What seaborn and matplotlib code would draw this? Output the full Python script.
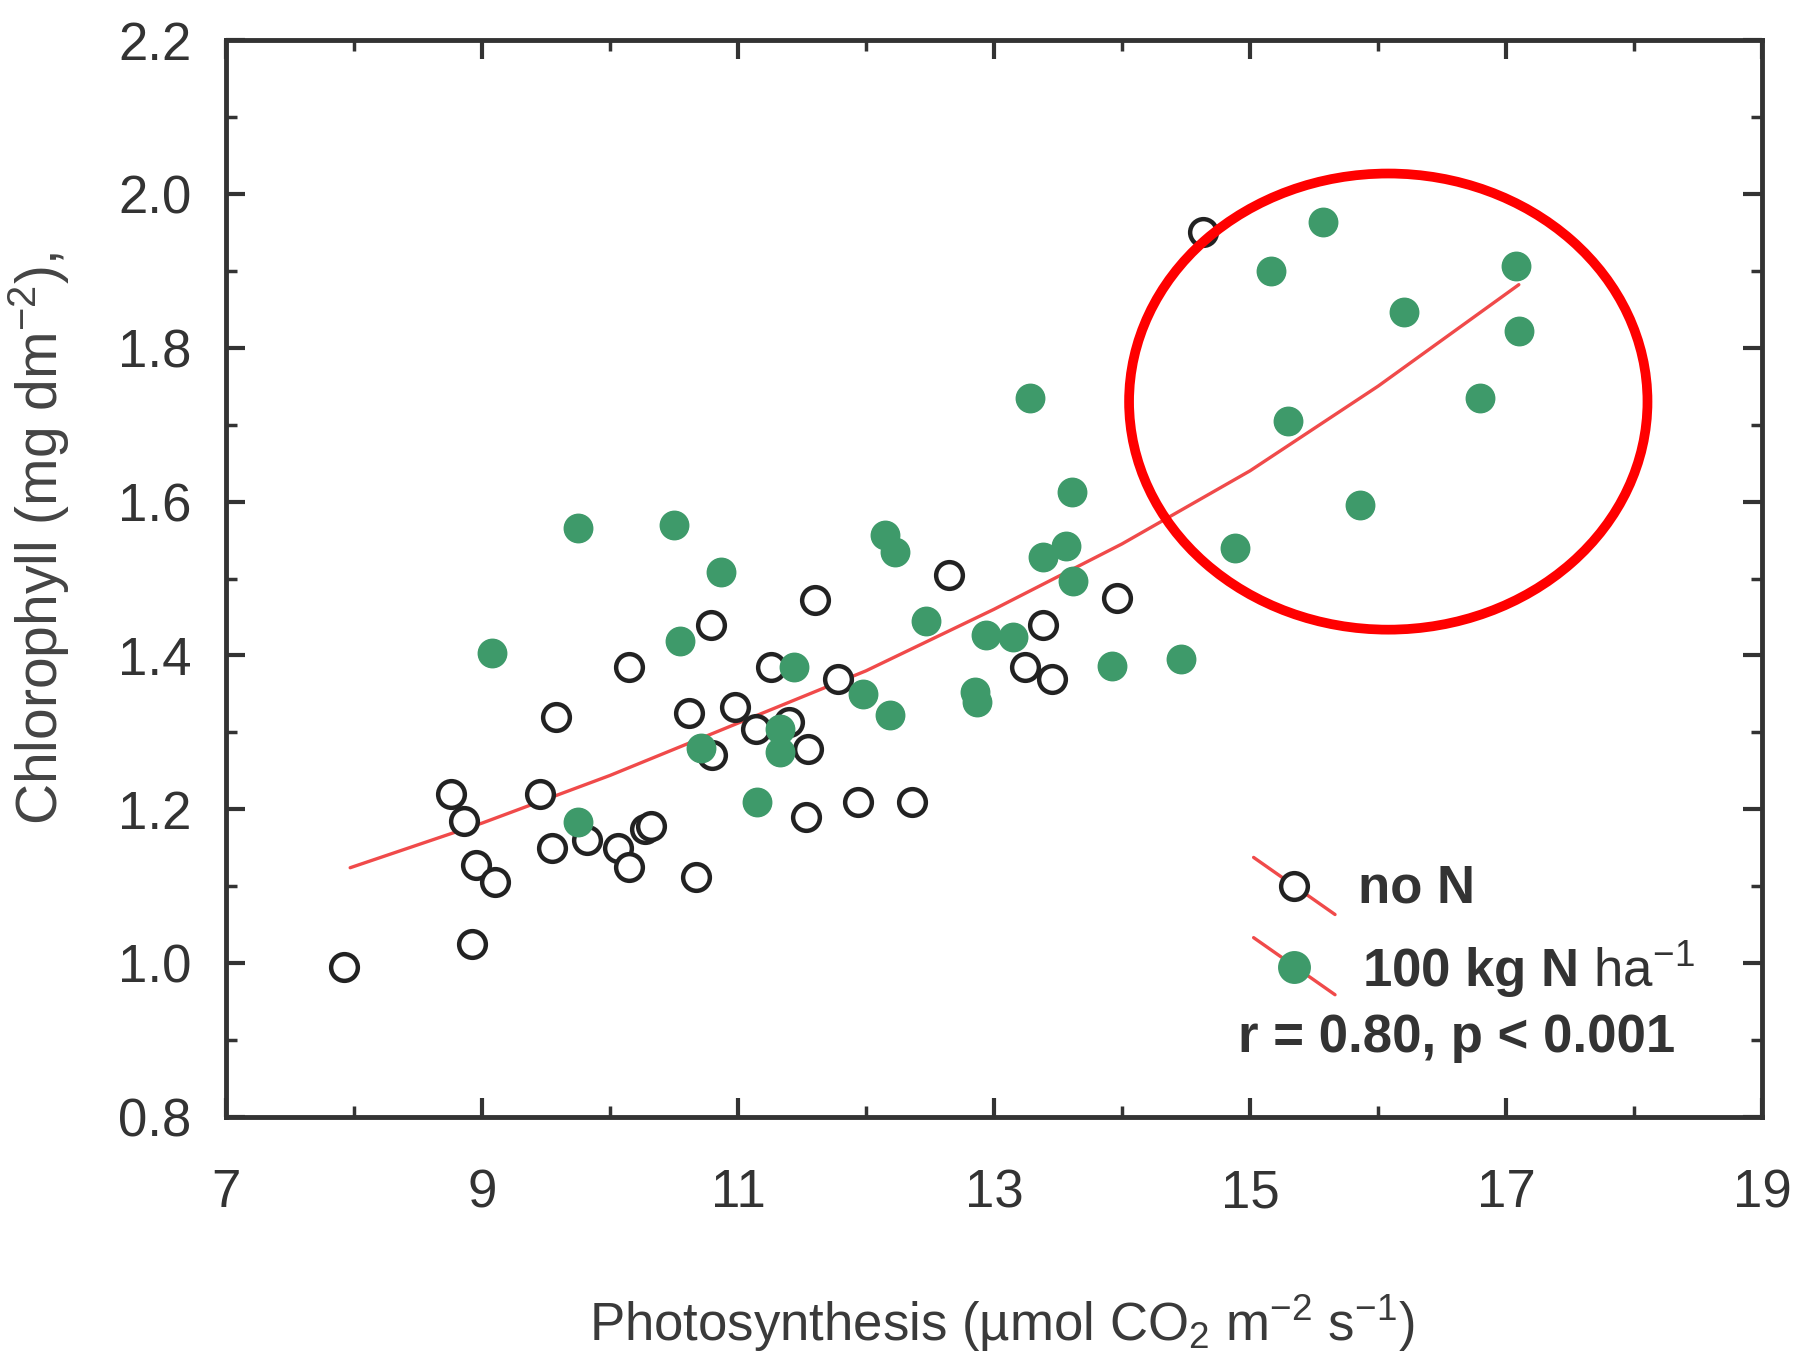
import numpy as np
import pandas as pd
import matplotlib
matplotlib.use("Agg")
import matplotlib.pyplot as plt
import seaborn as sns
from matplotlib.patches import Ellipse
from matplotlib.ticker import MultipleLocator

# --- data ---
no_n_x = [7.92, 8.76, 8.86, 8.95, 9.10, 8.92, 9.45, 9.58, 9.55, 9.82, 10.06, 10.15,
          10.15, 10.27, 10.32, 10.62, 10.67, 10.79, 10.80, 10.98, 11.14, 11.26, 11.40,
          11.55, 11.53, 11.60, 11.78, 11.94, 12.36, 12.65, 13.24, 13.38, 13.45, 13.96, 14.63]
no_n_y = [0.995, 1.22, 1.185, 1.128, 1.105, 1.025, 1.22, 1.32, 1.15, 1.16, 1.15, 1.125,
          1.385, 1.175, 1.178, 1.325, 1.112, 1.44, 1.27, 1.333, 1.305, 1.385, 1.313,
          1.278, 1.19, 1.472, 1.37, 1.21, 1.21, 1.505, 1.385, 1.44, 1.37, 1.475, 1.95]

n100_x = [9.08, 9.75, 10.50, 10.87, 10.55, 9.75, 10.71, 11.15, 11.33, 11.33, 11.44, 11.98,
          12.19, 12.15, 12.23, 12.47, 12.85, 12.87, 12.94, 13.15, 13.28, 13.38, 13.56,
          13.61, 13.62, 13.92, 14.46, 14.88, 15.16, 15.57, 15.30, 15.86, 16.20, 16.80,
          17.08, 17.10]
n100_y = [1.403, 1.566, 1.569, 1.508, 1.419, 1.184, 1.28, 1.21, 1.305, 1.275, 1.385, 1.35,
          1.322, 1.556, 1.535, 1.445, 1.352, 1.34, 1.427, 1.424, 1.735, 1.528, 1.542,
          1.612, 1.497, 1.386, 1.395, 1.54, 1.9, 1.963, 1.705, 1.596, 1.846, 1.735,
          1.906, 1.822]

fit_x = [7.97, 9, 10, 11, 12, 13, 14, 15, 16, 17.1]
fit_y = [1.124, 1.182, 1.244, 1.312, 1.38, 1.46, 1.545, 1.64, 1.75, 1.882]

x_ticks = [7, 9, 11, 13, 15, 17, 19]
y_ticks = [0.8, 1.0, 1.2, 1.4, 1.6, 1.8, 2.0, 2.2]

df = pd.DataFrame({
    "x": no_n_x + n100_x,
    "y": no_n_y + n100_y,
    "group": ["no N"] * len(no_n_x) + ["100 kg N"] * len(n100_x),
})
fit = pd.DataFrame({"x": fit_x, "y": fit_y})

sns.set_style("ticks")
plt.rcParams["font.family"] = ["Liberation Sans", "DejaVu Sans"]
plt.rcParams["mathtext.fontset"] = "custom"
plt.rcParams["mathtext.rm"] = "Liberation Sans"
plt.rcParams["mathtext.it"] = "Liberation Sans:italic"
plt.rcParams["mathtext.bf"] = "Liberation Sans:bold"

ink = "#333333"
green = "#3e9a6a"
red = "#f04a4a"

fig = plt.figure(figsize=(17.98, 13.58), dpi=100)
ax = fig.add_axes([0.1257, 0.1775, 0.8543, 0.793])

sns.lineplot(data=fit, x="x", y="y", ax=ax, color=red, lw=2.4, zorder=2)
sns.scatterplot(data=df[df.group == "no N"], x="x", y="y", ax=ax, s=370,
                facecolor="white", edgecolor="#222222", linewidth=3.2, zorder=3)
sns.scatterplot(data=df[df.group == "100 kg N"], x="x", y="y", ax=ax, s=420,
                color=green, edgecolor=green, linewidth=1, zorder=4)

ax.set_xlim(7, 19)
ax.set_ylim(0.8, 2.2)
ax.set_xticks(x_ticks)
ax.set_yticks(y_ticks)
ax.set_yticklabels([f"{v:.1f}" for v in y_ticks])
ax.xaxis.set_minor_locator(MultipleLocator(1))
ax.yaxis.set_minor_locator(MultipleLocator(0.1))
ax.tick_params(which="both", direction="in", top=True, right=True, color=ink,
               labelcolor=ink, labelsize=38)
ax.tick_params(which="major", length=14, width=3)
ax.tick_params(which="minor", length=8, width=2.5)
ax.tick_params(axis="x", pad=37)
ax.tick_params(axis="y", pad=25)
for sp in ax.spines.values():
    sp.set_linewidth(3.5)
    sp.set_color(ink)

ax.set_xlabel("Photosynthesis (\u00b5mol CO$_2$ m$^{-2}$ s$^{-1}$)", fontsize=38, color="#3a3a3a")
ax.set_ylabel(r"Chlorophyll (mg dm$^{-2}$),", fontsize=41, color="#444444")
ax.xaxis.set_label_coords(0.505, -0.163)
ax.yaxis.set_label_coords(-0.100, 0.537)

# hand-drawn legend
tr = ax.transAxes
for yy, face, edge, s in [(0.214, "white", "#222222", 370), (0.1395, green, green, 420)]:
    ax.plot([0.669, 0.722], [yy + 0.027, yy - 0.026], color=red, lw=2.4, transform=tr)
    ax.scatter([0.695], [yy], s=s, facecolor=face, edgecolor=edge, linewidth=3.2,
               transform=tr, zorder=5)
ax.text(0.737, 0.212, "no N", transform=tr, fontsize=38, fontweight="bold",
        color=ink, va="center")
ax.text(0.7395, 0.137, r"$\mathbf{100\ kg\ N}$ ha$^{-1}$", transform=tr, fontsize=38,
        color=ink, va="center")
ax.text(0.659, 0.0735, "r = 0.80, p < 0.001", transform=tr, fontsize=38,
        fontweight="bold", color=ink, va="center")

# red annotation ellipse
ax.add_patch(Ellipse((16.08, 1.73), 4.05, 0.593, fill=False, edgecolor="#ff0000",
                     lw=7, zorder=6, clip_on=False))

fig.savefig("out.png", dpi=100, facecolor="white")
